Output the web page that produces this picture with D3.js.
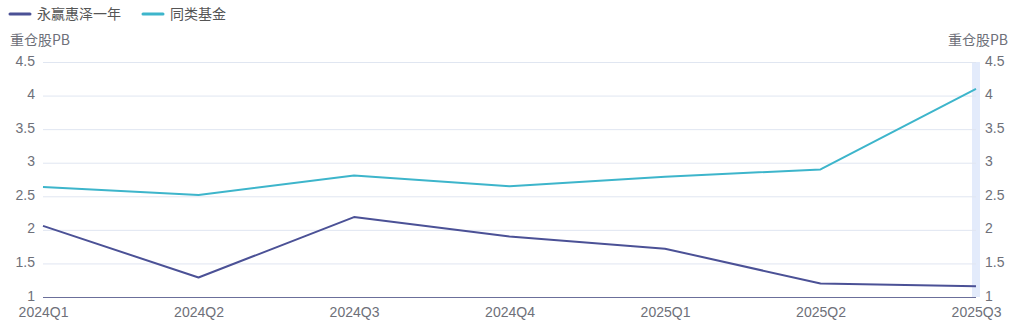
<!DOCTYPE html>
<html>
<head>
<meta charset="utf-8">
<script src="https://cdn.jsdelivr.net/npm/d3@7"></script>
<style>
  html, body { margin: 0; padding: 0; background: #fff; }
  svg { display: block; font-family: "Noto Sans CJK SC", "Noto Sans", sans-serif; }
</style>
</head>
<body>
<svg id="chart" width="1018" height="333"></svg>
<script>
// Quarterly holdings P/B: the fund vs. its peer average
const quarters = ["2024Q1", "2024Q2", "2024Q3", "2024Q4", "2025Q1", "2025Q2", "2025Q3"];
const fundPB = [2.06, 1.29, 2.19, 1.90, 1.72, 1.20, 1.16];
const peerPB = [2.64, 2.52, 2.81, 2.65, 2.79, 2.90, 4.10];
const seriesNames = ["永赢惠泽一年", "同类基金"];
const seriesColors = ["#4b5196", "#3db5cb"];
const yTicks = [1, 1.5, 2, 2.5, 3, 3.5, 4, 4.5];
const axisTitle = "重仓股PB";

const svg = d3.select("#chart");
const margin = { left: 43, right: 42, top: 62, bottom: 36 };
const W = 1018, H = 333;

const x = d3.scalePoint().domain(quarters).range([margin.left, W - margin.right]);
const y = d3.scaleLinear().domain([1, 4.5]).range([H - margin.bottom, margin.top]);

const textColor = "#6e7079";

// highlighted last category band
const lastX = x(quarters[quarters.length - 1]);
svg.append("rect")
  .attr("x", lastX - 4).attr("y", y(4.5))
  .attr("width", 8).attr("height", y(1) - y(4.5))
  .attr("fill", "#e3ebfb");

// horizontal grid
svg.append("g").selectAll("line")
  .data(yTicks.filter(d => d !== 1))
  .join("line")
  .attr("x1", margin.left).attr("x2", W - margin.right)
  .attr("y1", d => y(d) + 0.5).attr("y2", d => y(d) + 0.5)
  .attr("stroke", "#e0e6f1").attr("stroke-width", 1);

// left value axis
const leftAxis = svg.append("g")
  .attr("transform", `translate(${margin.left},0)`)
  .call(d3.axisLeft(y).tickValues(yTicks).tickSize(0).tickPadding(8).tickFormat(d3.format("~g")));
leftAxis.select(".domain").remove();
leftAxis.selectAll("text").attr("fill", textColor).attr("dy", "0.22em").style("font-size", "14px");

// right value axis
const rightAxis = svg.append("g")
  .attr("transform", `translate(${W - margin.right},0)`)
  .call(d3.axisRight(y).tickValues(yTicks).tickSize(0).tickPadding(9).tickFormat(d3.format("~g")));
rightAxis.select(".domain").remove();
rightAxis.selectAll("text").attr("fill", textColor).attr("dy", "0.22em").style("font-size", "14px");

// category axis
const bottomAxis = svg.append("g")
  .attr("transform", `translate(0,${y(1)})`)
  .call(d3.axisBottom(x).tickSize(0).tickPadding(10));
bottomAxis.select(".domain").remove();
bottomAxis.selectAll("text").attr("fill", textColor).style("font-size", "14px");
svg.append("line")
  .attr("x1", margin.left).attr("x2", W - margin.right)
  .attr("y1", y(1) + 0.5).attr("y2", y(1) + 0.5)
  .attr("stroke", "#6b6f9a").attr("stroke-width", 1);

// axis titles
svg.append("text").attr("x", 10).attr("y", 45)
  .attr("fill", textColor).style("font-size", "14px").text(axisTitle);
svg.append("text").attr("x", 1008).attr("y", 45).attr("text-anchor", "end")
  .attr("fill", textColor).style("font-size", "14px").text(axisTitle);

// lines
const line = d3.line().x((d, i) => x(quarters[i])).y(d => y(d));
[fundPB, peerPB].forEach((vals, k) => {
  svg.append("path")
    .datum(vals)
    .attr("d", line)
    .attr("fill", "none")
    .attr("stroke", seriesColors[k])
    .attr("stroke-width", 2)
    .attr("stroke-linejoin", "round");
});

// legend
const legendX = [10, 143];
seriesNames.forEach((name, k) => {
  const g = svg.append("g").attr("transform", `translate(${legendX[k]},14)`);
  g.append("line").attr("x1", 0).attr("x2", 20).attr("y1", 0).attr("y2", 0)
    .attr("stroke", seriesColors[k]).attr("stroke-width", 3).attr("stroke-linecap", "round");
  g.append("text").attr("x", 27).attr("y", 5)
    .attr("fill", "#555").style("font-size", "14px").text(name);
});
</script>
</body>
</html>
